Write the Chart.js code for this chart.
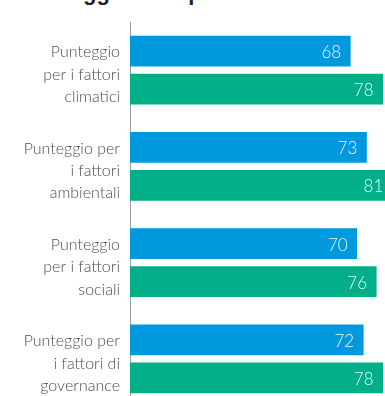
<!DOCTYPE html>
<html>
<head>
<meta charset="utf-8">
<script src="https://cdn.jsdelivr.net/npm/chart.js@4"></script>
<style>
  html, body { margin: 0; padding: 0; background: #fff; overflow: hidden; }
  #wrap { position: relative; width: 385px; height: 396px; overflow: hidden; }
  #title { position: absolute; left: 22px; top: -20px; font: bold 22px "Liberation Sans", Arial, sans-serif; color: #222; white-space: nowrap; line-height: 26px; }
  #box { position: absolute; left: 0; top: 0; width: 430px; height: 410px; }
</style>
</head>
<body>
<div id="wrap">
  <div id="title">Punteggio ESG per</div>
  <div id="box"><canvas id="c" width="430" height="410"></canvas></div>
</div>
<script>
const categories = [
  ["Punteggio", "per i fattori", "climatici"],
  ["Punteggio per", "i fattori", "ambientali"],
  ["Punteggio", "per i fattori", "sociali"],
  ["Punteggio per", "i fattori di", "governance"]
];
const seriesBlue = [68, 73, 70, 72];
const seriesGreen = [78, 81, 76, 78];

const valueLabels = {
  id: 'valueLabels',
  afterDatasetsDraw(chart) {
    const ctx = chart.ctx;
    ctx.save();
    ctx.font = '300 17px Lato, "Open Sans", sans-serif';
    ctx.fillStyle = 'rgba(255,255,255,0.93)';
    ctx.textAlign = 'right';
    ctx.textBaseline = 'middle';
    chart.data.datasets.forEach((ds, i) => {
      chart.getDatasetMeta(i).data.forEach((bar, j) => {
        ctx.fillText(String(ds.data[j]), bar.x - 9.5, bar.y + 1.5);
      });
    });
    ctx.restore();
  }
};

// nudge the category labels slightly down, as in the reference
const labelShift = {
  id: 'labelShift',
  beforeDraw(chart) {
    const scale = chart.scales.y;
    const items = scale.getLabelItems();
    items.forEach(it => {
      if (!it.__shifted) {
        it.options.translation = [it.options.translation[0], it.options.translation[1] + 4.5];
        it.__shifted = true;
      }
    });
  }
};

new Chart(document.getElementById('c'), {
  type: 'bar',
  data: {
    labels: categories,
    datasets: [
      { data: seriesBlue, backgroundColor: '#0099de', categoryPercentage: 0.79, barPercentage: 0.81 },
      { data: seriesGreen, backgroundColor: '#00af87', categoryPercentage: 0.79, barPercentage: 0.81 }
    ]
  },
  options: {
    indexAxis: 'y',
    responsive: false,
    animation: false,
    devicePixelRatio: 1,
    layout: { padding: { top: 22, bottom: 3, left: 0, right: 8 } },
    plugins: { legend: { display: false }, tooltip: { enabled: false } },
    scales: {
      x: { display: false, min: 0, max: 90 },
      y: {
        afterFit(scale) { scale.width = 130; scale.paddingTop = 0; scale.paddingBottom = 0; },
        grid: { display: false, drawTicks: false },
        border: { display: true, color: '#9a9a9a', width: 1 },
        ticks: {
          padding: 10,
          color: '#4d4d4d',
          font: { family: 'Lato, "Open Sans", sans-serif', size: 16, weight: '300', lineHeight: 1.4 }
        }
      }
    }
  },
  plugins: [valueLabels, labelShift]
});
</script>
</body>
</html>
